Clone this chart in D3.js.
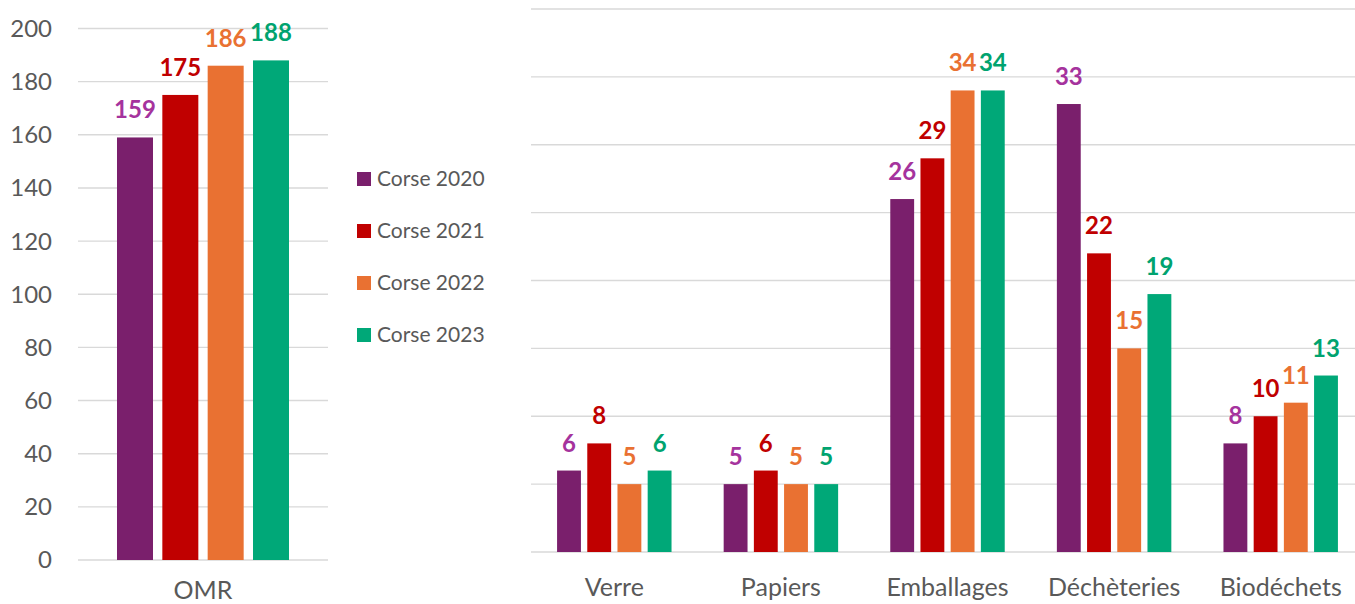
<!DOCTYPE html>
<html><head><meta charset="utf-8">
<script src="https://cdn.jsdelivr.net/npm/d3@7"></script>
<style>
html,body{margin:0;padding:0;background:#fff;}
svg{display:block;}
text{font-family:Lato,"Open Sans",sans-serif;}
</style></head>
<body>
<svg id="chart" width="1355" height="604"></svg>
<script>
const series = ["Corse 2020","Corse 2021","Corse 2022","Corse 2023"];
const barColors = ["#7A1F6C","#C00000","#E97132","#00A878"];
const labelColors = ["#A5339D","#C00000","#E97132","#00A36F"];

const leftCategories = ["OMR"];
const omrValues = [159,175,186,188];
const leftTicks = [0,20,40,60,80,100,120,140,160,180,200];

const rightCategories = ["Verre","Papiers","Emballages","Déchèteries","Biodéchets"];
const v2020 = [6,5,26,33,8];
const v2021 = [8,6,29,22,10];
const v2022 = [5,5,34,15,11];
const v2023 = [6,5,34,19,13];
const rightTicks = [0,5,10,15,20,25,30,35,40];

const svg = d3.select("#chart");
const gridColor = "#D9D9D9";
const axisText = "#595959";

// ---------- LEFT CHART ----------
const yL = d3.scaleLinear().domain([0,200]).range([560,28.5]);
const x0L = d3.scaleBand().domain(leftCategories).range([78,328]).paddingInner(0).paddingOuter(0.2267);
const x1L = d3.scaleBand().domain(series).range([0,x0L.bandwidth()]).paddingInner(0.206).paddingOuter(0);

const gL = svg.append("g");
gL.selectAll("line.grid").data(leftTicks).enter().append("line")
  .attr("x1",78).attr("x2",328)
  .attr("y1",d=>yL(d)).attr("y2",d=>yL(d))
  .attr("stroke",gridColor).attr("stroke-width",1.4);
gL.selectAll("text.tick").data(leftTicks).enter().append("text")
  .attr("x",52).attr("y",d=>yL(d)).attr("dy","0.35em")
  .attr("text-anchor","end").attr("fill",axisText).style("font-size","24px")
  .text(d=>d);
const leftData = series.map((s,i)=>({s,i,v:omrValues[i],c:"OMR"}));
gL.selectAll("rect.bar").data(leftData).enter().append("rect")
  .attr("x",d=>x0L(d.c)+x1L(d.s)).attr("width",x1L.bandwidth())
  .attr("y",d=>yL(d.v)).attr("height",d=>yL(0)-yL(d.v))
  .attr("fill",d=>barColors[d.i]);
gL.selectAll("text.lbl").data(leftData).enter().append("text")
  .attr("x",d=>x0L(d.c)+x1L(d.s)+x1L.bandwidth()/2).attr("y",d=>yL(d.v)-19)
  .attr("text-anchor","middle").attr("fill",d=>labelColors[d.i])
  .style("font-size","24px").style("font-weight","bold").text(d=>d.v);
gL.selectAll("text.cat").data(leftCategories).enter().append("text")
  .attr("x",d=>x0L(d)+x0L.bandwidth()/2).attr("y",599)
  .attr("text-anchor","middle").attr("fill",axisText).style("font-size","25px").text(d=>d);

// ---------- LEGEND ----------
const legY = [179,231,283,335];
const gLeg = svg.append("g");
series.forEach((s,i)=>{
  gLeg.append("rect").attr("x",357).attr("y",legY[i]-7).attr("width",14).attr("height",14).attr("fill",barColors[i]);
  gLeg.append("text").attr("x",377).attr("y",legY[i]).attr("dy","0.35em")
    .attr("fill",axisText).style("font-size","21px").text(s);
});

// ---------- RIGHT CHART ----------
const yR = d3.scaleLinear().domain([0,40]).range([552,9]);
const x0R = d3.scaleBand().domain(rightCategories).range([531,1364]).paddingInner(0.313).paddingOuter(0.1565);
const x1R = d3.scaleBand().domain(series).range([0,x0R.bandwidth()]).paddingInner(0.21).paddingOuter(0);
const rightValues = [v2020,v2021,v2022,v2023];
const gR = svg.append("g");
gR.selectAll("line.grid").data(rightTicks).enter().append("line")
  .attr("x1",531).attr("x2",1355)
  .attr("y1",d=>yR(d)).attr("y2",d=>yR(d))
  .attr("stroke",gridColor).attr("stroke-width",1.4);
const rightData = [];
rightCategories.forEach((c,ci)=>series.forEach((s,i)=>rightData.push({c,s,i,v:rightValues[i][ci]})));
gR.selectAll("rect.bar").data(rightData).enter().append("rect")
  .attr("x",d=>x0R(d.c)+x1R(d.s)).attr("width",x1R.bandwidth())
  .attr("y",d=>yR(d.v)).attr("height",d=>yR(0)-yR(d.v))
  .attr("fill",d=>barColors[d.i]);
gR.selectAll("text.lbl").data(rightData).enter().append("text")
  .attr("x",d=>x0R(d.c)+x1R(d.s)+x1R.bandwidth()/2).attr("y",d=>yR(d.v)-19)
  .attr("text-anchor","middle").attr("fill",d=>labelColors[d.i])
  .style("font-size","24px").style("font-weight","bold").text(d=>d.v);
gR.selectAll("text.cat").data(rightCategories).enter().append("text")
  .attr("x",d=>x0R(d)+x0R.bandwidth()/2).attr("y",596)
  .attr("text-anchor","middle").attr("fill",axisText).style("font-size","25px").text(d=>d);
</script>
</body></html>
